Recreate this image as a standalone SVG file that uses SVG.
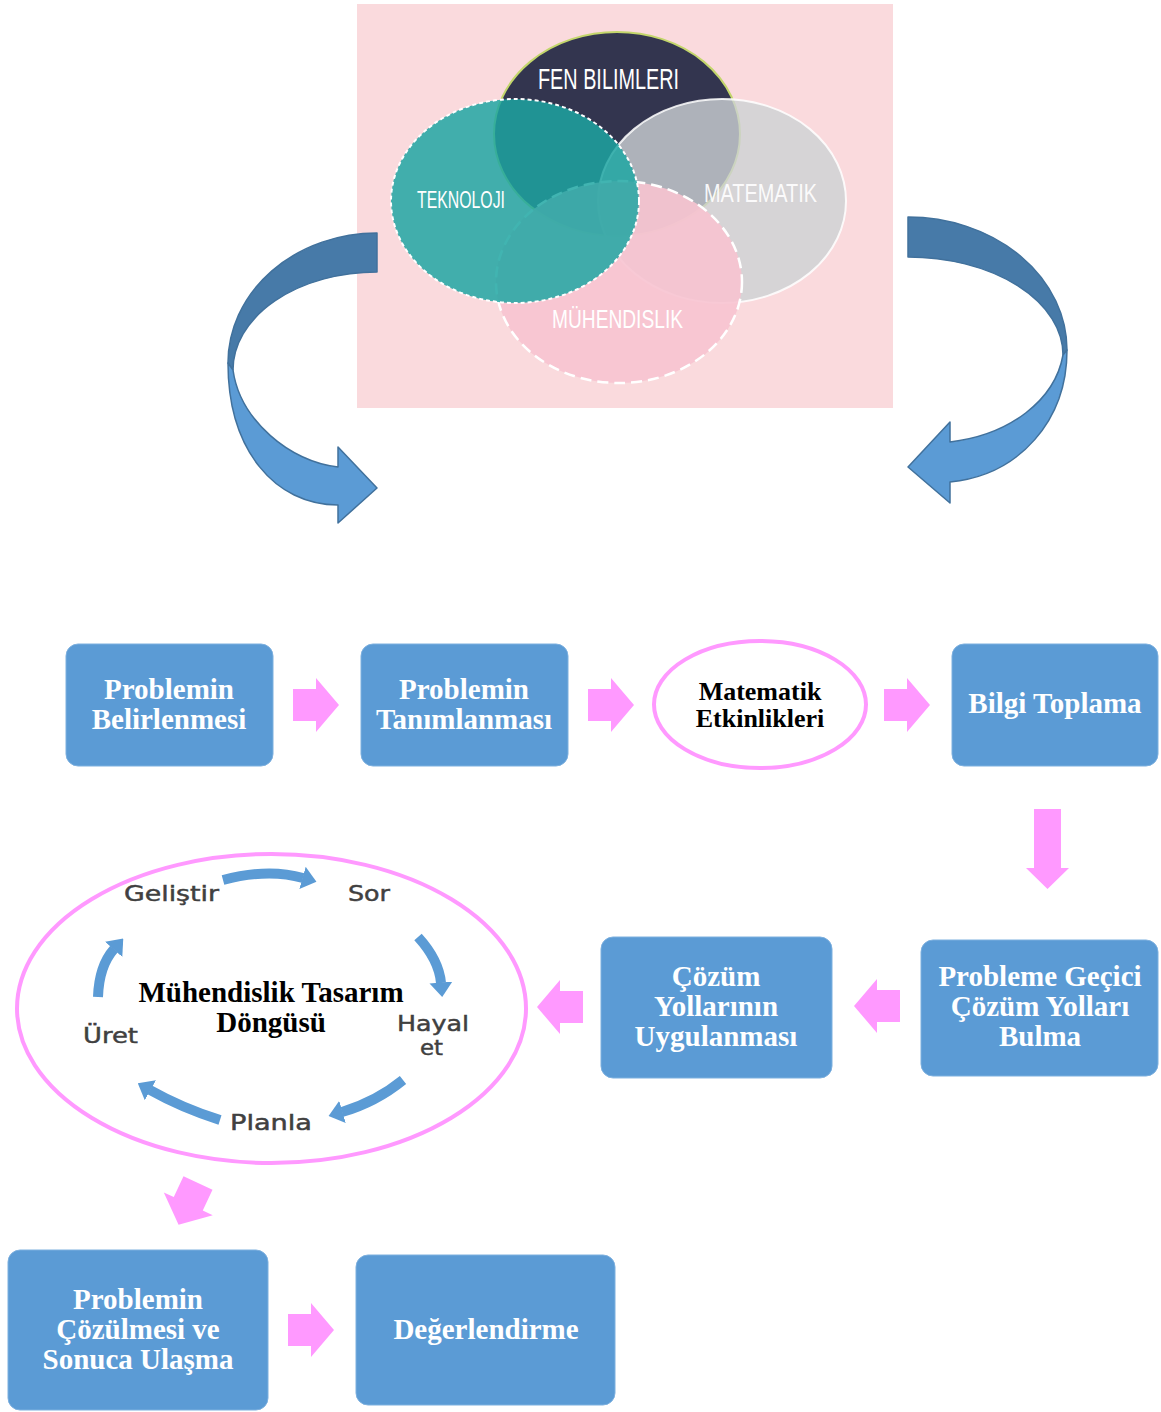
<svg xmlns="http://www.w3.org/2000/svg" width="1161" height="1412" viewBox="0 0 1161 1412">
  <style>
    .box { fill: #5B9BD5; stroke: #7DB0DF; stroke-width: 1; }
    .btxt { font-family: "Liberation Serif", "Times New Roman", serif; font-weight: bold; font-size: 29px; fill: #FFFFFF; text-anchor: middle; }
    .etxt { font-family: "Liberation Serif", "Times New Roman", serif; font-weight: bold; font-size: 26px; fill: #000000; text-anchor: middle; }
    .ttl { font-family: "Liberation Serif", "Times New Roman", serif; font-weight: bold; font-size: 29px; fill: #000000; text-anchor: middle; }
    .ring { fill: #FFFFFF; stroke: #FF99FF; stroke-width: 4; }
    .pink { fill: #FF99FF; }
    .venn { font-family: "Liberation Sans", Arial, sans-serif; fill: #FFFFFF; }
    .cyc { font-family: "DejaVu Sans", Verdana, sans-serif; font-size: 20.5px; fill: #404040; stroke: #404040; stroke-width: 0.45; }
    .cyc-arrow { fill: none; stroke: #5B9BD5; stroke-width: 10; marker-end: url(#cycHead); }
    .curl-dark { fill: #477AA8; stroke: #41719C; stroke-width: 1.5; stroke-linejoin: round; }
    .curl-light { fill: #5B9BD5; stroke: #41719C; stroke-width: 1.5; stroke-linejoin: round; }
  </style>
  <defs>
    <!-- block arrow pointing right, back edge at the origin -->
    <path id="blockArrow" d="M0,-16 H23 V-27 L46,0 L23,27 V16 H0 Z"/>
    <marker id="cycHead" viewBox="0 -1.15 1.45 2.3" markerWidth="1.45" markerHeight="2.3" refX="0.05" refY="0" orient="auto" markerUnits="strokeWidth">
      <path d="M0,-1.15 L1.45,0 L0,1.15 Z" fill="#5B9BD5"/>
    </marker>
  </defs>

  <rect width="1161" height="1412" fill="#FFFFFF"/>

  <!-- STEM Venn panel -->
  <g id="stem-venn">
    <rect x="357" y="4" width="536" height="404" fill="#FADADD"/>
    <ellipse cx="617" cy="134" rx="123" ry="102" fill="#33354F" stroke="#C3D66B" stroke-width="2"/>
    <ellipse cx="722" cy="201" rx="124" ry="102" fill="#CDD2D4" fill-opacity="0.8" stroke="#FFFFFF" stroke-opacity="0.85" stroke-width="2"/>
    <ellipse cx="619" cy="282" rx="123" ry="101" fill="#F7C3D0" fill-opacity="0.9" stroke="#FFFFFF" stroke-width="2.5" stroke-dasharray="11 6"/>
    <ellipse cx="515" cy="201" rx="124" ry="102" fill="#1DA6A2" fill-opacity="0.84" stroke="#FFFFFF" stroke-width="2" stroke-dasharray="4 3"/>
    <text class="venn" x="538" y="89" font-size="29" textLength="141" lengthAdjust="spacingAndGlyphs">FEN BILIMLERI</text>
    <text class="venn" x="417" y="208" font-size="24" textLength="88" lengthAdjust="spacingAndGlyphs">TEKNOLOJI</text>
    <text class="venn" x="704" y="202" font-size="26.5" textLength="113" lengthAdjust="spacingAndGlyphs" fill-opacity="0.92">MATEMATIK</text>
    <text class="venn" x="552" y="328" font-size="26" textLength="131" lengthAdjust="spacingAndGlyphs">MÜHENDISLIK</text>
  </g>

  <g id="n1"><rect class="box" x="66" y="644" width="207" height="122" rx="12"/>
    <text class="btxt" x="169" y="699">Problemin</text><text class="btxt" x="169" y="729">Belirlenmesi</text></g>
  <g id="n2"><rect class="box" x="361" y="644" width="207" height="122" rx="12"/>
    <text class="btxt" x="464" y="699">Problemin</text><text class="btxt" x="464" y="729">Tanımlanması</text></g>
  <g id="n3"><ellipse class="ring" cx="760" cy="704.5" rx="106" ry="63.5"/>
    <text class="etxt" x="760" y="700">Matematik</text><text class="etxt" x="760" y="727">Etkinlikleri</text></g>
  <g id="n4"><rect class="box" x="952" y="644" width="206" height="122" rx="12"/>
    <text class="btxt" x="1055" y="713">Bilgi Toplama</text></g>
  <g id="n5"><rect class="box" x="921" y="940" width="237" height="136" rx="12"/>
    <text class="btxt" x="1040" y="986">Probleme Geçici</text><text class="btxt" x="1040" y="1016">Çözüm Yolları</text><text class="btxt" x="1040" y="1046">Bulma</text></g>
  <g id="n6"><rect class="box" x="601" y="937" width="231" height="141" rx="12"/>
    <text class="btxt" x="716" y="986">Çözüm</text><text class="btxt" x="716" y="1016">Yollarının</text><text class="btxt" x="716" y="1046">Uygulanması</text></g>

  <!-- engineering design cycle -->
  <g id="n7">
    <ellipse class="ring" cx="271.5" cy="1008.5" rx="254.5" ry="154.5"/>
    <path class="cyc-arrow" d="M223,880 Q268,868 303,878"/>
    <path class="cyc-arrow" d="M418,937 Q439,960 441,983"/>
    <path class="cyc-arrow" d="M403,1080 Q376,1102 342,1112"/>
    <path class="cyc-arrow" d="M220,1120 Q182,1108 150,1090"/>
    <path class="cyc-arrow" d="M98,997 Q99,966 114,949"/>
    <text class="cyc" x="124" y="901" textLength="95" lengthAdjust="spacingAndGlyphs">Geliştir</text>
    <text class="cyc" x="348" y="901" textLength="42" lengthAdjust="spacingAndGlyphs">Sor</text>
    <text class="cyc" x="397" y="1031" textLength="72" lengthAdjust="spacingAndGlyphs">Hayal</text>
    <text class="cyc" x="420" y="1055" textLength="23" lengthAdjust="spacingAndGlyphs">et</text>
    <text class="cyc" x="83" y="1043" textLength="55" lengthAdjust="spacingAndGlyphs">Üret</text>
    <text class="cyc" x="230" y="1130" textLength="82" lengthAdjust="spacingAndGlyphs">Planla</text>
    <text class="ttl" x="271" y="1002">Mühendislik Tasarım</text>
    <text class="ttl" x="271" y="1032">Döngüsü</text>
  </g>

  <g id="n8"><rect class="box" x="8" y="1250" width="260" height="160" rx="12"/>
    <text class="btxt" x="138" y="1309">Problemin</text><text class="btxt" x="138" y="1339">Çözülmesi ve</text><text class="btxt" x="138" y="1369">Sonuca Ulaşma</text></g>
  <g id="n9"><rect class="box" x="356" y="1255" width="259" height="150" rx="12"/>
    <text class="btxt" x="486" y="1339">Değerlendirme</text></g>

  <g id="connectors">
    <!-- curved arrows from the STEM panel -->
    <path class="curl-dark" d="M377,233 A149,130 0 0 0 228,363 L233,370 A144,98 0 0 1 377,272 Z"/>
    <path class="curl-light" d="M228,363 C228,450 275,505 338,505 L338,523 L377,488 L338,447 L338,467 C290,462 240,420 233,370 Z"/>
    <path class="curl-dark" d="M908,217 A159,133 0 0 1 1067,350 L1063,355 A155,98 0 0 0 908,257 Z"/>
    <path class="curl-light" d="M1067,350 C1067,420 1020,475 950,482 L950,503 L908,467 L950,422 L950,442 C1010,435 1055,400 1063,355 Z"/>

    <!-- process flow arrows -->
    <use href="#blockArrow" class="pink" transform="translate(293,705)"/>
    <use href="#blockArrow" class="pink" transform="translate(588,705)"/>
    <use href="#blockArrow" class="pink" transform="translate(884,705)"/>
    <path class="pink" d="M1034,809 H1061 V868 H1069 L1047.5,889 L1026,868 H1034 Z"/>
    <use href="#blockArrow" class="pink" transform="translate(900,1006) rotate(180)"/>
    <use href="#blockArrow" class="pink" transform="translate(583,1007) rotate(180)"/>
    <use href="#blockArrow" class="pink" transform="translate(198,1183) rotate(115)"/>
    <use href="#blockArrow" class="pink" transform="translate(288,1330)"/>
  </g>
</svg>
